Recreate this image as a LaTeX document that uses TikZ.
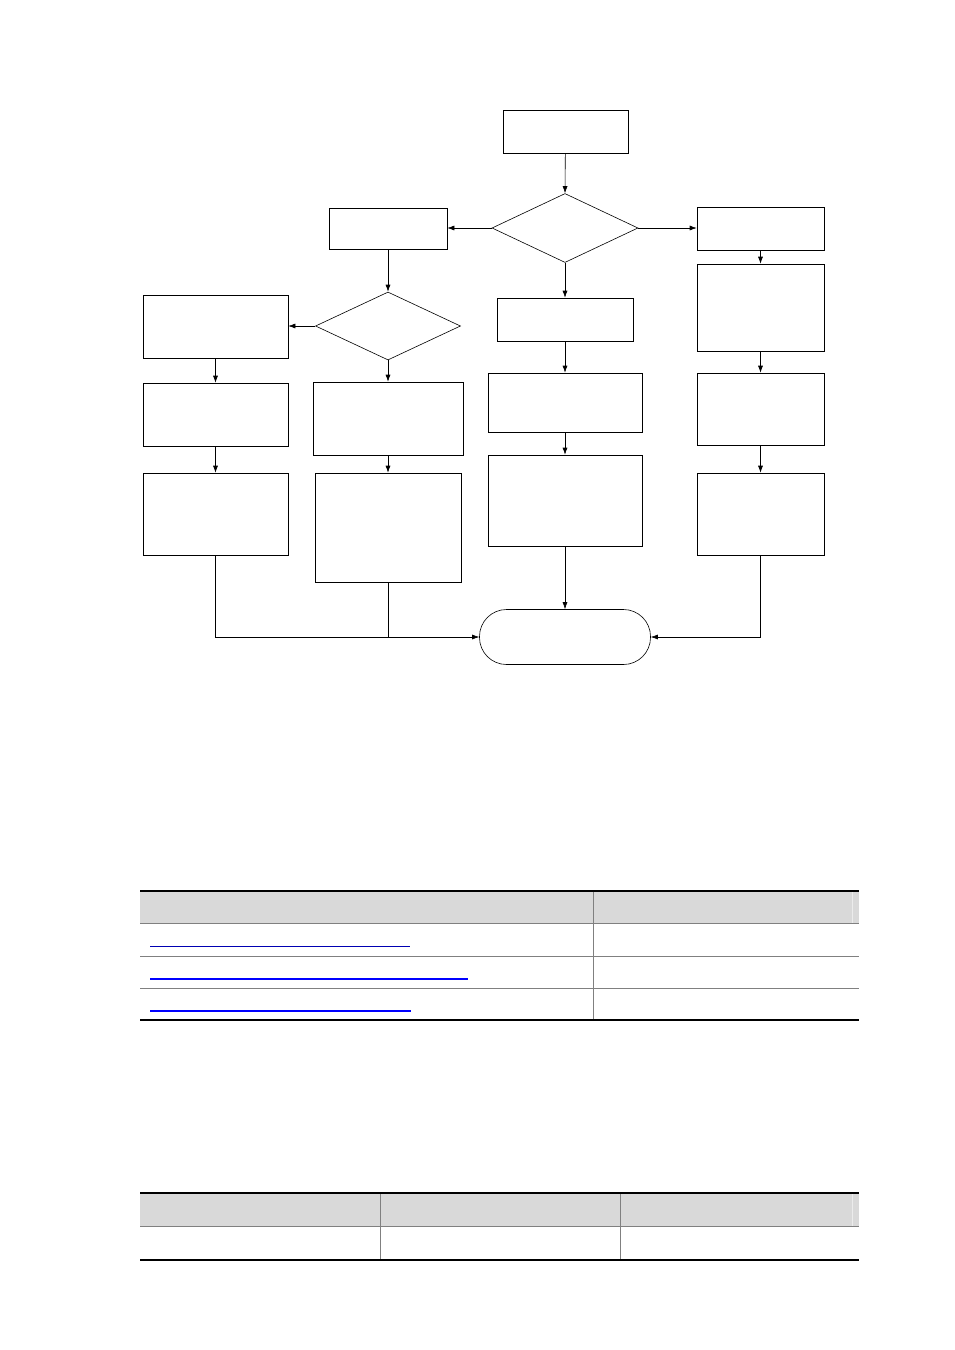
\documentclass[tikz,border=0pt]{standalone}
\usetikzlibrary{shapes.geometric,arrows.meta}
\begin{document}
\begin{tikzpicture}[x=1pt,y=-1pt,
  bx/.style={draw,line width=0.6pt,minimum width=0pt,minimum height=0pt,inner sep=0pt},
  dia/.style={draw,diamond,line width=0.6pt,inner sep=0pt,aspect=2.1},
  arr/.style={-{Latex[length=7pt,width=5pt]},line width=0.6pt},
  ln/.style={line width=0.6pt}]
\useasboundingbox (0,0) rectangle (954,1350);
\newcommand{\bxat}[5]{\node[bx,minimum width=#4-#2,minimum height=#5-#3] (#1) at ({(#2+#4)/2},{(#3+#5)/2}) {};}
\bxat{start}{503}{110}{628}{153}
\node[dia,minimum width=146,minimum height=69] (d1) at (565,228) {};
\bxat{L1}{329}{208}{447}{249}
\bxat{R1}{697}{207}{824}{250}
\node[dia,minimum width=145,minimum height=68] (d2) at (388,326) {};
\bxat{LL1}{143}{295}{288}{358}
\bxat{M1}{497}{298}{633}{341}
\bxat{R2}{697}{264}{824}{351}
\bxat{LL2}{143}{383}{288}{446}
\bxat{L2}{313}{382}{463}{455}
\bxat{M2}{488}{373}{642}{432}
\bxat{R3}{697}{373}{824}{445}
\bxat{LL3}{143}{473}{288}{555}
\bxat{L3}{315}{473}{461}{582}
\bxat{M3}{488}{455}{642}{546}
\bxat{R4}{697}{473}{824}{555}
\node[draw,line width=0.6pt,rounded corners=27pt,minimum width=171,minimum height=55,inner sep=0pt] (end) at (565,637) {};
\draw[arr] (start) -- (d1.north);
\draw[arr] (d1.west) -- (L1.east |- d1.west);
\draw[arr] (d1.east) -- (R1.west |- d1.east);
\draw[arr] (d1.south) -- (M1.north);
\draw[arr] (L1.south) -- (d2.north);
\draw[arr] (d2.west) -- (LL1.east |- d2.west);
\draw[arr] (d2.south) -- (L2.north);
\draw[arr] (LL1) -- (LL2);
\draw[arr] (LL2) -- (LL3);
\draw[arr] (L2) -- (L3);
\draw[arr] (M1) -- (M2);
\draw[arr] (M2) -- (M3);
\draw[arr] (M3) -- (end.north);
\draw[arr] (R1.south -| R2.north) -- (R2.north);
\draw[arr] (R2) -- (R3);
\draw[arr] (R3) -- (R4);
\coordinate (j) at (388,637);
\draw[ln] (LL3.south) |- (j);
\draw[ln] (L3.south) -- (j);
\draw[arr] (j) -- (end.west);
\draw[arr] (R4.south) |- (end.east);
% table 1
\fill[gray!30] (140,891) rectangle (859,923);
\draw[gray!15,line width=0.6pt] (852,891) -- (852,923);
\draw[gray,line width=0.6pt] (593,891) -- (593,1020);
\draw[gray,line width=0.6pt] (140,923) -- (859,923) (140,956) -- (859,956) (140,988) -- (859,988);
\draw[black,line width=1.2pt] (140,891) -- (859,891) (140,1020) -- (859,1020);
\draw[blue!70!black,line width=0.8pt] (150,946) -- (410,946);
\draw[blue,line width=1.4pt] (150,979) -- (468,979);
\draw[blue,line width=1.4pt] (150,1011) -- (411,1011);
% table 2
\fill[gray!30] (140,1193) rectangle (859,1226);
\draw[gray!15,line width=0.6pt] (852,1193) -- (852,1226);
\draw[gray,line width=0.6pt] (380,1193) -- (380,1260) (620,1193) -- (620,1260);
\draw[gray,line width=0.6pt] (140,1226) -- (859,1226);
\draw[black,line width=1.2pt] (140,1193) -- (859,1193) (140,1260) -- (859,1260);
\end{tikzpicture}
\end{document}
